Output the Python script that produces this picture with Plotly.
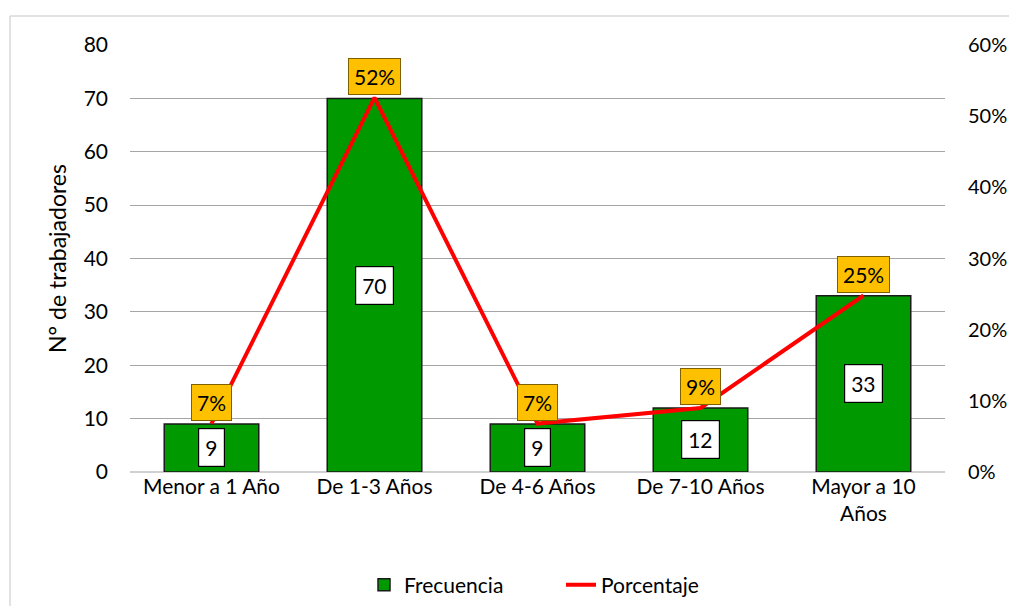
import plotly.graph_objects as go

categories = ["Menor a 1 Año", "De 1-3 Años", "De 4-6 Años", "De 7-10 Años", "Mayor a 10<br>Años"]
frecuencia = [9, 70, 9, 12, 33]
porcentaje = [0.068, 0.526, 0.068, 0.090, 0.248]
pct_labels = ["7%", "52%", "7%", "9%", "25%"]
y_ticks = [0, 10, 20, 30, 40, 50, 60, 70, 80]
y2_ticks = [0, 0.1, 0.2, 0.3, 0.4, 0.5, 0.6]

FONT = "Lato"
OFF = 8  # page body margin
L, R, T, B = 130 - OFF, 72 - OFF, 45 - OFF, 142 - OFF
W, H = 1017 - 2 * OFF, 614 - 2 * OFF
pw, ph = W - L - R, H - T - B

fig = go.Figure()
fig.add_trace(go.Bar(
    x=categories, y=frecuencia, name="Frecuencia",
    marker=dict(color="#009900", line=dict(color="#1a1a1a", width=1.5)),
    width=0.58,
))
fig.add_trace(go.Scatter(
    x=categories, y=porcentaje, name="Porcentaje", yaxis="y2",
    mode="lines", line=dict(color="#FF0000", width=4),
))

ann = []
for c, v in zip(categories, frecuencia):
    ann.append(dict(x=c, y=v / 2, xref="x", yref="y", text=str(v), showarrow=False,
                    bgcolor="white", bordercolor="black", borderwidth=1.2, borderpad=6,
                    font=dict(size=21, color="black", family=FONT)))
for c, p, t in zip(categories, porcentaje, pct_labels):
    ann.append(dict(x=c, y=p, xref="x", yref="y2", text=t, showarrow=False,
                    yanchor="bottom", yshift=3,
                    bgcolor="#FFC000", bordercolor="#7f6000", borderwidth=1, borderpad=5,
                    font=dict(size=21, color="black", family=FONT)))

# outer chart frame: only top and left edges are visible in the reference
fx0 = (10 - 130) / 815
fy1 = (472 - 16) / 427
frame = dict(color="#d9d9d9", width=1.5)
fig.add_shape(type="line", xref="paper", yref="paper", x0=fx0, x1=1.3, y0=fy1, y1=fy1,
              line=frame, layer="below")
fig.add_shape(type="line", xref="paper", yref="paper", x0=fx0, x1=fx0, y0=-0.6, y1=fy1,
              line=frame, layer="below")

fig.update_layout(
    width=W, height=H,
    margin=dict(l=L, r=R, t=T, b=B, autoexpand=False),
    paper_bgcolor="white", plot_bgcolor="white",
    font=dict(family=FONT, size=21, color="black"),
    showlegend=True,
    legend=dict(orientation="h", x=(364 - 130) / 815, xanchor="left", y=-0.265, yanchor="middle",
                entrywidth=152, entrywidthmode="pixels",
                font=dict(size=21, family=FONT), traceorder="normal"),
    xaxis=dict(showgrid=False, showline=False, ticks="", tickfont=dict(size=21), automargin=False),
    yaxis=dict(range=[0, 80], tickvals=y_ticks, showgrid=True, gridcolor="#a6a6a6", gridwidth=1,
               zeroline=True, zerolinecolor="#d0d0d0", zerolinewidth=1.5, automargin=False,
               title=dict(text="N° de trabajadores", font=dict(size=23), standoff=10),
               ticks="", ticklabelstandoff=21, tickfont=dict(size=21)),
    yaxis2=dict(range=[0, 0.6], tickvals=y2_ticks, tickformat=".0%", overlaying="y", side="right",
                showgrid=False, zeroline=False, ticks="", ticklabelstandoff=22, automargin=False,
                tickfont=dict(size=20)),
    annotations=ann,
)
fig.write_html("out.html")
